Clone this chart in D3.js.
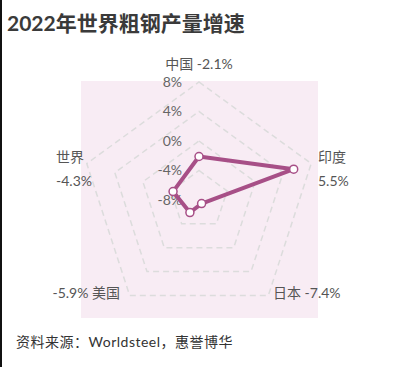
<!DOCTYPE html>
<html>
<head>
<meta charset="utf-8">
<script src="https://cdn.jsdelivr.net/npm/d3@7/dist/d3.min.js"></script>
<style>
  body { margin: 0; background: #fff; }
  svg { display: block; }
  text { font-family: "Lato", "Noto Sans CJK SC", sans-serif; }
</style>
</head>
<body>
<script>
// data
const countries = ["中国", "印度", "日本", "美国", "世界"];
const growth = [-2.1, 5.5, -7.4, -5.9, -4.3];
const ringTicks = [-8, -4, 0, 4, 8];
const tickLabels = ["-8%", "-4%", "0%", "4%", "8%"];

const width = 399, height = 367;
const cx = 199, cy = 200, radius = 118;
const lineColor = "#a74f87";

const svg = d3.select("body").append("svg")
  .attr("width", width)
  .attr("height", height);

// left edge bar
svg.append("rect")
  .attr("x", 0).attr("y", 0)
  .attr("width", 2).attr("height", height)
  .attr("fill", "#111");

// title
svg.append("text")
  .attr("x", 7).attr("y", 31)
  .attr("font-size", 21)
  .attr("font-weight", "bold")
  .attr("fill", "#3a3a3a")
  .text("2022年世界粗钢产量增速");

// plot background
svg.append("rect")
  .attr("x", 81).attr("y", 81)
  .attr("width", 237).attr("height", 237)
  .attr("fill", "#f8ecf4");

const r = d3.scaleLinear().domain([-8, 8]).range([0, radius]);
const angle = d3.scalePoint().domain(countries).range([0, 2 * Math.PI * 4 / 5]);

const g = svg.append("g").attr("transform", "translate(" + cx + "," + cy + ")");

// rings (dashed pentagons)
const ring = d3.lineRadial()
  .angle(function(d) { return angle(d); })
  .curve(d3.curveLinearClosed);

g.selectAll(".ring")
  .data(ringTicks.filter(function(t) { return t > -8; }))
  .enter().append("path")
  .attr("class", "ring")
  .attr("d", function(t) { return ring.radius(r(t))(countries); })
  .attr("fill", "none")
  .attr("stroke", "#dcdcdc")
  .attr("stroke-width", 1.5)
  .attr("stroke-dasharray", "6,4");

// tick labels along the top axis
g.selectAll(".tick")
  .data(ringTicks)
  .enter().append("text")
  .attr("class", "tick")
  .attr("x", -17)
  .attr("y", function(t) { return -r(t); })
  .attr("dy", "0.35em")
  .attr("text-anchor", "end")
  .attr("font-size", 14)
  .attr("fill", "#666")
  .text(function(t, i) { return tickLabels[i]; });

// data polygon
const series = countries.map(function(c, i) { return { c: c, v: growth[i] }; });
const area = d3.lineRadial()
  .angle(function(d) { return angle(d.c); })
  .radius(function(d) { return r(d.v); })
  .curve(d3.curveLinearClosed);

g.append("path")
  .datum(series)
  .attr("d", area)
  .attr("fill", "none")
  .attr("stroke", lineColor)
  .attr("stroke-width", 4)
  .attr("stroke-linejoin", "round");

g.selectAll(".pt")
  .data(series)
  .enter().append("circle")
  .attr("class", "pt")
  .attr("cx", function(d) { return r(d.v) * Math.sin(angle(d.c)); })
  .attr("cy", function(d) { return -r(d.v) * Math.cos(angle(d.c)); })
  .attr("r", 4)
  .attr("fill", "#fff")
  .attr("stroke", lineColor)
  .attr("stroke-width", 1.5);

// axis name labels (plain hyphen for the minus sign)
const fmt = function(v) { return v.toFixed(1) + "%"; };
const labelStyle = [
  { x: 0, y: -131, anchor: "middle" },
  { x: 119, y: -38, anchor: "start" },
  { x: 74, y: 98, anchor: "start" },
  { x: -79, y: 98, anchor: "end" },
  { x: -129, y: -38, anchor: "middle" }
];

series.forEach(function(d, i) {
  const s = labelStyle[i];
  const t = g.append("text")
    .attr("x", s.x).attr("y", s.y)
    .attr("text-anchor", s.anchor)
    .attr("font-size", 14)
    .attr("fill", "#555");
  if (i === 0 || i === 2) {
    t.text(d.c + " " + fmt(d.v));
  } else if (i === 3) {
    t.text(fmt(d.v) + " " + d.c);
  } else {
    t.append("tspan").attr("x", s.x).text(d.c);
    t.append("tspan").attr("x", s.x + (i === 4 ? 4 : 0)).attr("dy", 24).text(fmt(d.v));
  }
});

// source
svg.append("text")
  .attr("x", 16).attr("y", 347)
  .attr("font-size", 14)
  .attr("letter-spacing", 0.5)
  .attr("fill", "#333")
  .text("资料来源：Worldsteel，惠誉博华");
</script>
</body>
</html>
